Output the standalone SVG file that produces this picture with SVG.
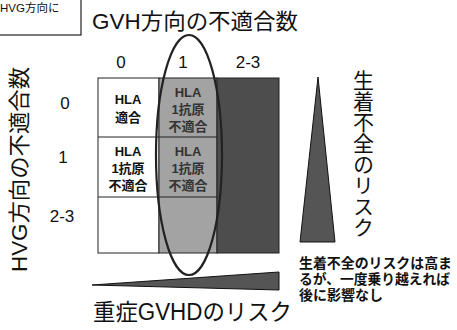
<svg xmlns="http://www.w3.org/2000/svg" width="457" height="330" viewBox="0 0 457 330">
<style>
text{font-family:"Liberation Sans","Noto Sans CJK JP",sans-serif;fill:#111}
.big{font-size:22px}
.num{font-size:17px;text-anchor:middle}
.cell{font-size:13px;font-weight:bold;text-anchor:middle}
.note{font-size:14px;font-weight:bold}
.tri{fill:#555;stroke:#111;stroke-width:1}
</style>
<rect width="457" height="330" fill="#fff"/>
<g id="legend-box">
<rect x="-5" y="-5" width="86" height="40" fill="#fff" stroke="#222" stroke-width="1.2"/>
<text x="0" y="12" style="font-size:11.5px">HVG方向に</text>
</g>
<g id="title">
<text class="big" x="92" y="29" textLength="206" lengthAdjust="spacingAndGlyphs">GVH方向の不適合数</text>
</g>
<g id="col-labels">
<text class="num" x="121" y="68">0</text>
<text class="num" x="183" y="68">1</text>
<text class="num" x="248" y="68">2-3</text>
</g>
<g id="row-axis">
<text class="big" transform="translate(27,272) rotate(-90)" textLength="205" lengthAdjust="spacingAndGlyphs">HVG方向の不適合数</text>
<text class="num" x="65" y="109">0</text>
<text class="num" x="63" y="163">1</text>
<text class="num" x="62" y="222">2-3</text>
</g>
<g id="grid">
<rect x="98" y="78" width="61" height="175" fill="#fff" stroke="#222" stroke-width="1"/>
<rect x="159" y="78" width="58" height="175" fill="#a3a3a3" stroke="#222" stroke-width="1"/>
<rect x="217" y="78" width="62" height="175" fill="#4d4d4d" stroke="#222" stroke-width="1"/>
<line x1="98" y1="137" x2="217" y2="137" stroke="#222" stroke-width="1"/>
<line x1="98" y1="197" x2="217" y2="197" stroke="#222" stroke-width="1"/>
</g>
<g id="cell-00">
<text class="cell" x="128" y="104">HLA</text>
<text class="cell" x="128" y="122">適合</text>
</g>
<g id="cell-01">
<text class="cell" x="188" y="97" style="fill:#333">HLA</text>
<text class="cell" x="188" y="114" style="fill:#333">1抗原</text>
<text class="cell" x="188" y="131" style="fill:#333">不適合</text>
</g>
<g id="cell-10">
<text class="cell" x="128" y="156">HLA</text>
<text class="cell" x="128" y="173">1抗原</text>
<text class="cell" x="128" y="190">不適合</text>
</g>
<g id="cell-11">
<text class="cell" x="188" y="156" style="fill:#333">HLA</text>
<text class="cell" x="188" y="173" style="fill:#333">1抗原</text>
<text class="cell" x="188" y="190" style="fill:#333">不適合</text>
</g>
<g id="highlight">
<ellipse cx="189" cy="155" rx="33" ry="120" fill="none" stroke="#222" stroke-width="2.2"/>
</g>
<g id="graft-risk">
<polygon class="tri" points="318,77 335,242 300,242"/>
<text x="362" y="70" style="font-size:21px;writing-mode:vertical-rl;text-anchor:start">生着不全のリスク</text>
</g>
<g id="gvhd-risk">
<polygon class="tri" points="92,285 279,272 279,290"/>
<text class="big" x="93" y="320" style="font-size:23px" textLength="199" lengthAdjust="spacingAndGlyphs">重症GVHDのリスク</text>
</g>
<g id="note">
<text class="note" x="299" y="268" textLength="153" lengthAdjust="spacingAndGlyphs">生着不全のリスクは高ま</text>
<text class="note" x="299" y="284" textLength="151" lengthAdjust="spacingAndGlyphs">るが、一度乗り越えれば</text>
<text class="note" x="299" y="300">後に影響なし</text>
</g>
</svg>
